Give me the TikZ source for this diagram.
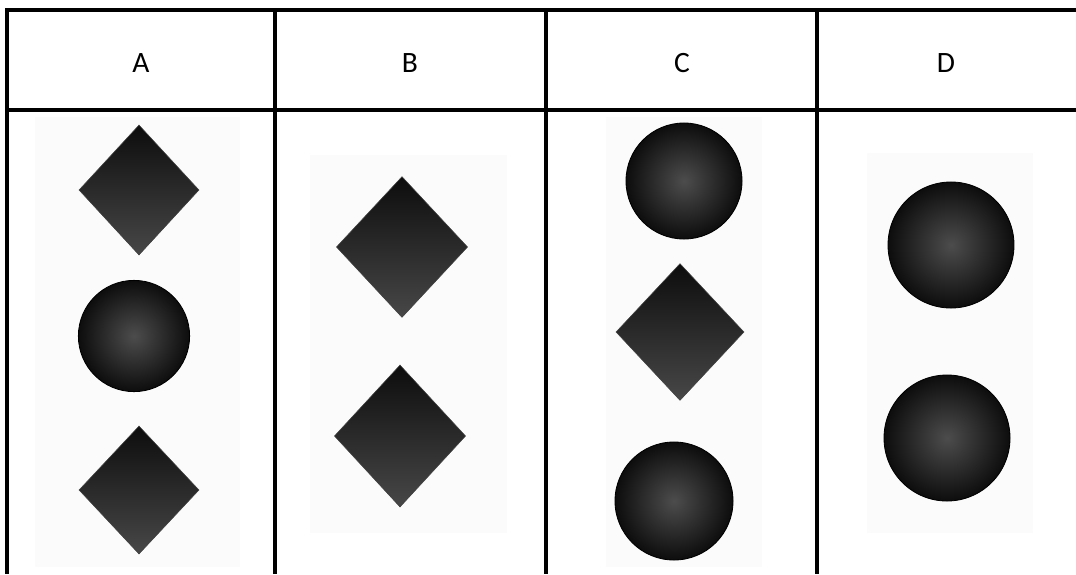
\documentclass[tikz,border=0pt]{standalone}
\usepackage{fontspec}
\setmainfont{Carlito}
\usepackage{tikz}
\usetikzlibrary{shapes.geometric, positioning}

\begin{document}
\begin{tikzpicture}[
    x=0.025cm, y=-0.025cm,
    grid/.style={line width=2.5pt, black},
    hdr/.style={font=\fontsize{21}{24}\selectfont, inner sep=0pt},
    photo/.style={fill=black!1.5, draw=none},
    diam/.style={diamond, draw=black!75, line width=0.4pt, inner sep=0pt, top color=black!95, bottom color=black!72},
    ball/.style={circle, draw=black, line width=0.6pt, inner sep=0pt, inner color=black!70, outer color=black!95}
  ]
  \useasboundingbox (0,0) rectangle (1076,574);

  % table lines
  \draw[grid] (1076,10) -- (7,10) -- (7,574);
  \draw[grid] (7,110) -- (1076,110);
  \draw[grid] (275,10) -- (275,574);
  \draw[grid] (546,10) -- (546,574);
  \draw[grid] (817,10) -- (817,574);

  % header row
  \node[hdr] (hA) at (141,63) {A};
  \node[hdr] (hB) at (410,63) {B};
  \node[hdr] (hC) at (682,63) {C};
  \node[hdr] (hD) at (946,63) {D};

  % faint picture backgrounds
  \fill[photo] (35,117) rectangle (240,567);
  \fill[photo] (310,155) rectangle (507,533);
  \fill[photo] (606,117) rectangle (762,567);
  \fill[photo] (867,153) rectangle (1033,533);

  % column A
  \node[diam, minimum width=3cm, minimum height=3.25cm] (a1) at (139,190) {};
  \node[ball, minimum size=2.78cm] (a2) at (134,336) {};
  \node[diam, minimum width=3cm, minimum height=3.2cm] (a3) at (139,490) {};

  % column B
  \node[diam, minimum width=3.28cm, minimum height=3.52cm] (b1) at (402,247) {};
  \node[diam, minimum width=3.28cm, minimum height=3.55cm] (b2) at (400,436) {};

  % column C
  \node[ball, minimum size=2.9cm] (c1) at (684,181) {};
  \node[diam, minimum width=3.2cm, minimum height=3.42cm] (c2) at (680,332) {};
  \node[ball, minimum size=2.95cm] (c3) at (674,501) {};

  % column D
  \node[ball, minimum size=3.15cm] (d1) at (951,245) {};
  \node[ball, minimum size=3.15cm] (d2) at (947,438) {};
\end{tikzpicture}
\end{document}
